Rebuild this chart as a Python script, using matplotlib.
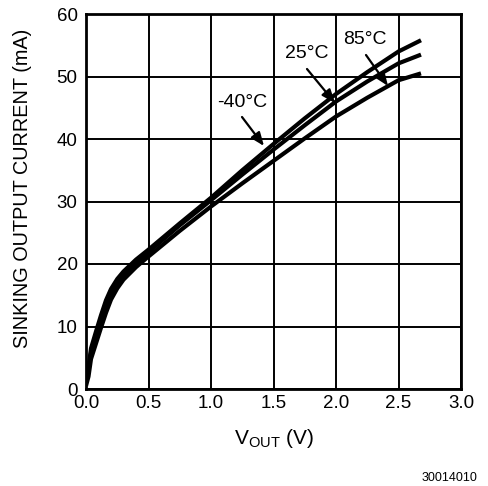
import matplotlib
matplotlib.use("Agg")
import matplotlib.pyplot as plt
import numpy as np

plt.rcParams['font.family'] = ['Liberation Sans', 'DejaVu Sans']

v_out = [0.0, 0.02, 0.04, 0.08, 0.12, 0.16, 0.2, 0.25, 0.3, 0.4, 0.5, 0.75, 1.0,
         1.25, 1.5, 1.75, 2.0, 2.25, 2.5, 2.68]
i_m40 = [1.0, 3.5, 6.5, 9.2, 11.8, 14.2, 16.0, 17.6, 18.8, 20.7, 22.3, 26.5, 30.6,
         35.0, 39.2, 43.3, 47.2, 50.7, 54.0, 55.8]
i_25 = [1.0, 3.0, 5.8, 8.3, 10.8, 13.2, 15.2, 16.9, 18.2, 20.2, 21.9, 26.2, 30.2,
        34.3, 38.3, 42.2, 46.0, 49.2, 52.1, 53.5]
i_85 = [0.5, 2.0, 4.8, 7.3, 9.8, 12.2, 14.3, 16.1, 17.5, 19.5, 21.2, 25.3, 29.2,
        32.9, 36.5, 40.1, 43.6, 46.6, 49.4, 50.5]

x_ticks = [0.0, 0.5, 1.0, 1.5, 2.0, 2.5, 3.0]
x_tick_labels = ["0.0", "0.5", "1.0", "1.5", "2.0", "2.5", "3.0"]
y_ticks = [0, 10, 20, 30, 40, 50, 60]
y_tick_labels = ["0", "10", "20", "30", "40", "50", "60"]

fig = plt.figure(figsize=(4.88, 4.86), dpi=100)
ax = fig.add_axes([86/488, 1-389/486, 375/488, 375/486])

for series in (i_m40, i_25, i_85):
    ax.plot(v_out, series, color='black', lw=3.0, solid_capstyle='butt', zorder=3)

ax.set_xlim(0, 3.0)
ax.set_ylim(0, 60)
ax.set_xticks(x_ticks)
ax.set_xticklabels(x_tick_labels)
ax.set_yticks(y_ticks)
ax.set_yticklabels(y_tick_labels)
ax.tick_params(length=0, labelsize=13.5, colors='black')
ax.tick_params(axis='y', pad=6)
ax.tick_params(axis='x', pad=4)
ax.grid(True, color='black', lw=1.4)
for s in ax.spines.values():
    s.set_linewidth(2.0)

ax.set_xlabel(r'$\mathregular{V_{OUT}}$ (V)', fontsize=15)
ax.xaxis.set_label_coords(0.5, -(438 - 389) / 375, transform=ax.transAxes)
ax.xaxis.label.set_va('center')
ax.set_ylabel('SINKING OUTPUT CURRENT (mA)', fontsize=14.3)
ax.yaxis.set_label_coords((23 - 86) / 375, (389 - 188) / 375, transform=ax.transAxes)
ax.yaxis.label.set_va('center')

def px(x, y):
    return ((x - 86) / 125.0, (389 - y) / 6.25)

labels = [("-40°C", (242, 102), (242, 117), (264, 146)),
          ("25°C", (307, 53), (307, 69), (335, 103)),
          ("85°C", (365, 39), (366, 55), (388, 86))]
for txt, tpos, tail, head in labels:
    ax.text(*px(*tpos), txt, fontsize=14, ha='center', va='center', zorder=5)
    ax.annotate('', xy=px(*head), xytext=px(*tail),
                arrowprops=dict(arrowstyle='-|>,head_length=0.8,head_width=0.32',
                                color='black', lw=1.6, shrinkA=0, shrinkB=0),
                zorder=5)

fig.text(477/488, 1-478/486, '30014010', fontsize=9, ha='right', va='center')

fig.savefig('out.png', dpi=100)
